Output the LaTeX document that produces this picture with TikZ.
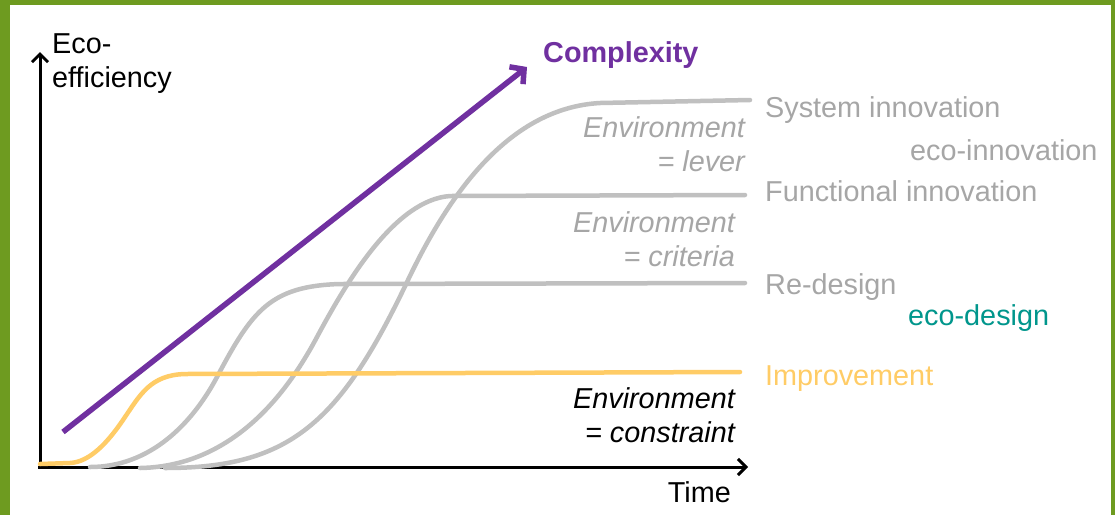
\documentclass[tikz,border=0pt]{standalone}
\usepackage{fontspec}
\setmainfont{Liberation Sans}
\usetikzlibrary{arrows.meta}
\definecolor{framegreen}{RGB}{110,155,32}
\definecolor{cplxpurple}{RGB}{112,48,160}
\definecolor{curvegray}{RGB}{192,192,192}
\definecolor{textgray}{RGB}{166,166,166}
\definecolor{imprvyellow}{RGB}{255,204,102}
\definecolor{ecoteal}{RGB}{0,150,140}
\tikzset{
  lbl/.style={inner sep=0pt, font=\fontsize{28.8}{34}\selectfont},
  envlbl/.style={inner sep=0pt, align=right, anchor=north east, font=\fontsize{28.8}{34}\selectfont\itshape},
  scurve/.style={curvegray, line width=4.5pt, line cap=round, line join=round},
  axis/.style={line width=3pt, -{Straight Barb[length=8pt,width=16pt]}}
}
\begin{document}
\begin{tikzpicture}[x=1pt,y=-1pt]
\fill[framegreen] (0,0) rectangle (1115,515);
\fill[white] (10,5) rectangle (1111,515);
\useasboundingbox (0,0) rectangle (1115,515);

\coordinate (ybot) at (40,469);
\coordinate (ytop) at (40,52);
\coordinate (xbeg) at (38,467);
\coordinate (xend) at (748,467);
\draw[axis] (ybot) -- (ytop);
\draw[axis] (xbeg) -- (xend);

\draw[scurve] (90,467) .. controls (150,467) and (192,424) .. (217,377)
  .. controls (252,311) and (270,286) .. (340,284) -- (745,283);
\draw[scurve] (140,468) .. controls (200,467) and (265,435) .. (317,337)
  .. controls (347,281) and (395,200) .. (450,196) -- (745,195);
\draw[scurve] (165,468) .. controls (290,468) and (340,423) .. (408,280)
  .. controls (450,192) and (510,108) .. (600,103) -- (750,100);
\draw[imprvyellow,line width=4.5pt,line cap=round,line join=round] (40,464) -- (70,463)
  .. controls (90,462) and (108,442) .. (123,420)
  .. controls (140,395) and (150,375) .. (185,374) -- (740,372);

\coordinate (cbeg) at (63,432);
\coordinate (cend) at (527,67);
\draw[cplxpurple, line width=5.5pt, -{Straight Barb[length=10pt,width=22pt]}] (cbeg) -- (cend);

\node[lbl, align=left, anchor=north west] (yname) at (52,33) {Eco-\\efficiency};
\node[lbl, anchor=base east] (time) at (731,502) {Time};
\node[lbl, cplxpurple, font=\fontsize{28.8}{34}\selectfont\bfseries, anchor=base west] (cplx) at (543,62) {Complexity};

\node[lbl, textgray, anchor=base west] (sysinn) at (765,117) {System innovation};
\node[lbl, textgray, anchor=base west] (ecoinn) at (910,160) {eco-innovation};
\node[lbl, textgray, anchor=base west] (funinn) at (765,201) {Functional innovation};
\node[lbl, textgray, anchor=base west] (redes) at (765,294) {Re-design};
\node[lbl, ecoteal, anchor=base west] (ecodes) at (908,325) {eco-design};
\node[lbl, imprvyellow, anchor=base west] (imprv) at (765,385) {Improvement};

\node[envlbl, textgray] (envlever) at (745,116) {Environment\\= lever};
\node[envlbl, textgray] (envcrit) at (735,211) {Environment\\= criteria};
\node[envlbl] (envcons) at (735,387) {Environment\\= constraint};
\end{tikzpicture}
\end{document}
